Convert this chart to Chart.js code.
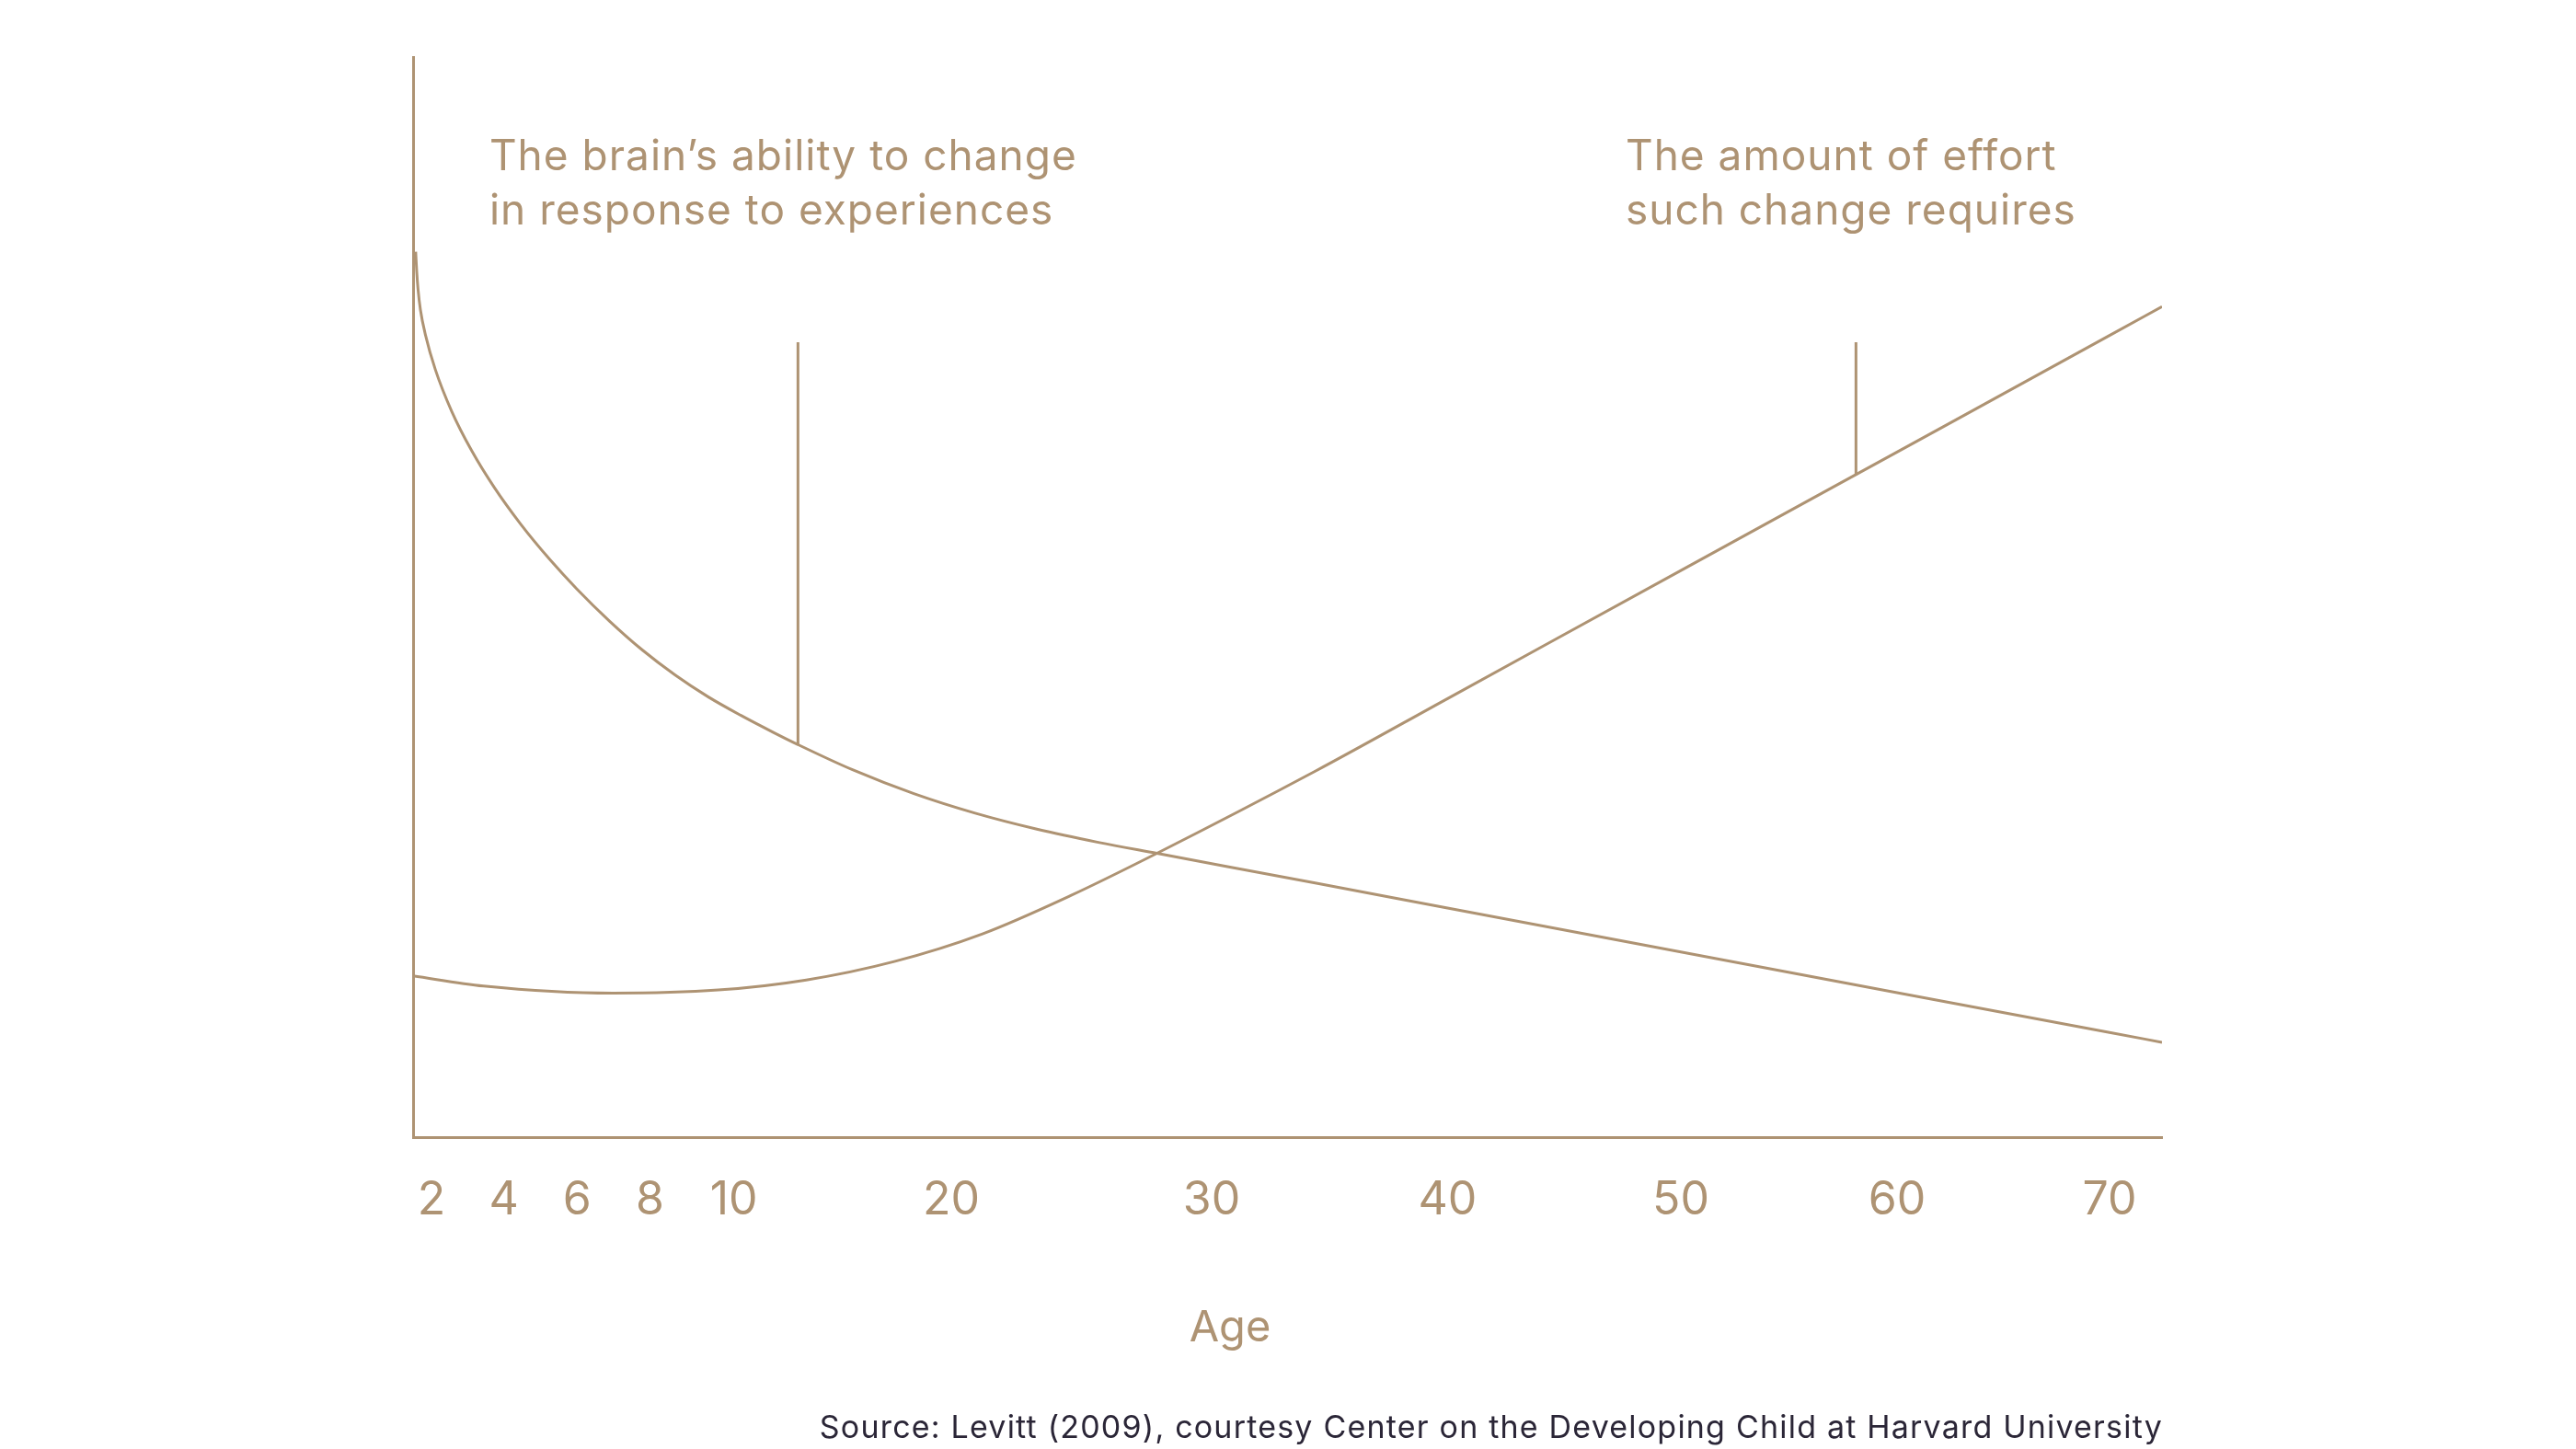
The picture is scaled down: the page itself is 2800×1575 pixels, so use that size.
<!DOCTYPE html>
<html>
<head>
<meta charset="utf-8">
<title>Brain plasticity and effort by age</title>
<script src="https://cdn.jsdelivr.net/npm/chart.js@4.4.1/dist/chart.umd.min.js"></script>
<style>
    html, body { margin: 0; padding: 0; background: #ffffff; }
    #wrap { width: 2800px; height: 1575px; }
</style>
</head>
<body>
<div id="wrap">
    <canvas id="brainChart" width="2800" height="1575"></canvas>
</div>
<script>
// Age tick labels along the bottom axis
const tickAges = [2, 4, 6, 8, 10, 20, 30, 40, 50, 60, 70];

// The brain's ability to change (0-100 scale)
const plasticityAges = [1.571, 1.6, 1.635, 1.7, 1.839, 2.109, 2.562, 3.107, 3.741, 4.462, 5.269, 5.987, 6.889, 7.792, 8.603, 9.386, 10.33, 11.84, 12.95, 15.46, 18.28, 20.92, 23.29, 25.65, 27.9, 34.44, 40, 50, 60, 70, 72.5];
const plasticityValues = [81.97, 80.1, 78.5, 76.6, 74.25, 71.05, 67.18, 63.58, 60.12, 56.74, 53.42, 50.77, 47.78, 45.1, 42.78, 40.77, 39.04, 37.45, 36.34, 34.01, 31.8, 29.99, 28.51, 27.29, 26.27, 23.51, 21.21, 17.14, 13.38, 9.69, 8.78];

// The amount of effort such change requires
const effortAges = [1.5, 3.44, 6.98, 9.63, 13.33, 17.38, 21.2, 24.59, 27.9, 34.41, 40, 50, 60, 70, 72.5];
const effortValues = [14.93, 13.99, 13.33, 13.62, 14.55, 16.26, 18.82, 22.37, 26.28, 33.9, 40.6, 52.46, 63.43, 74.22, 76.9];

// pointer lines from the captions down to the curves
const pointerAges = [12.95, 58.1];
const pointerTops = [73.6, 73.6];
const pointerBottoms = [36.34, 61.3];

const captionLines = [
    ['The brain\u2019s ability to change', 'in response to experiences'],
    ['The amount of effort', 'such change requires']
];
const captionAges = [3.6, 47.63];
const captionValues = [89.5, 89.5];

const sourceText = 'Source: Levitt (2009), courtesy Center on the Developing Child at Harvard University';

const tan = '#ae9373';
const ink = '#2b2637';

// The age axis in the original is not evenly spaced, so the scale
// interpolates between these anchor ages (start of axis .. end of axis)
const axisAges = [1.5, 2, 4, 6, 8, 10, 20, 30, 40, 50, 60, 70, 72.5];
const axisStops = [0, 0.0105, 0.0519, 0.0938, 0.1354, 0.1834, 0.3077, 0.4566, 0.5915, 0.7249, 0.8485, 0.9700, 1];

function ageToDecimal(age) {
    if (age <= axisAges[0]) return axisStops[0];
    for (let i = 1; i < axisAges.length; i++) {
        if (age <= axisAges[i]) {
            const t = (age - axisAges[i - 1]) / (axisAges[i] - axisAges[i - 1]);
            return axisStops[i - 1] + t * (axisStops[i] - axisStops[i - 1]);
        }
    }
    return axisStops[axisStops.length - 1];
}

function decimalToAge(dec) {
    if (dec <= axisStops[0]) return axisAges[0];
    for (let i = 1; i < axisStops.length; i++) {
        if (dec <= axisStops[i]) {
            const t = (dec - axisStops[i - 1]) / (axisStops[i] - axisStops[i - 1]);
            return axisAges[i - 1] + t * (axisAges[i] - axisAges[i - 1]);
        }
    }
    return axisAges[axisAges.length - 1];
}

class AgeScale extends Chart.LinearScale {
    getPixelForValue(value) {
        return this.getPixelForDecimal(ageToDecimal(value));
    }
    getValueForPixel(pixel) {
        return decimalToAge(this.getDecimalForPixel(pixel));
    }
}
AgeScale.id = 'age';
AgeScale.defaults = Chart.LinearScale.defaults;
Chart.register(AgeScale);

function toPoints(xs, ys) {
    return xs.map((x, i) => ({ x: x, y: ys[i] }));
}

// captions, the axis name and the source line
const captionPlugin = {
    id: 'captions',
    afterDraw(chart) {
        const ctx = chart.ctx;
        const xScale = chart.scales.x;
        const yScale = chart.scales.y;
        ctx.save();
        ctx.fillStyle = tan;
        ctx.textBaseline = 'alphabetic';
        ctx.textAlign = 'left';
        ctx.letterSpacing = '1px';
        ctx.font = '400 46px Inter, "Noto Sans", sans-serif';
        captionLines.forEach((lines, i) => {
            const x = xScale.getPixelForValue(captionAges[i]);
            const y = yScale.getPixelForValue(captionValues[i]);
            lines.forEach((line, j) => {
                ctx.fillText(line, x, y + j * 59);
            });
        });
        // axis name sits a little left of centre in the original
        ctx.textAlign = 'center';
        ctx.letterSpacing = '0px';
        ctx.font = '400 47px Inter, "Noto Sans", sans-serif';
        ctx.fillText('Age', xScale.getPixelForValue(30.78), yScale.getPixelForValue(-18.9));

        // source, right aligned with the end of the age axis
        ctx.textAlign = 'right';
        ctx.fillStyle = ink;
        ctx.letterSpacing = '1.2px';
        ctx.font = '400 34px Inter, "Noto Sans", sans-serif';
        ctx.fillText(sourceText, xScale.right + 1, chart.height - 12);
        ctx.restore();
    }
};

const ctx = document.getElementById('brainChart').getContext('2d');

const brainChart = new Chart(ctx, {
    type: 'line',
    data: {
        datasets: [
            {
                label: 'Ability to change',
                data: toPoints(plasticityAges, plasticityValues),
                borderColor: tan,
                borderWidth: 3,
                pointRadius: 0,
                cubicInterpolationMode: 'monotone',
                fill: false
            },
            {
                label: 'Effort required',
                data: toPoints(effortAges, effortValues),
                borderColor: tan,
                borderWidth: 3,
                pointRadius: 0,
                cubicInterpolationMode: 'monotone',
                fill: false
            },
            {
                label: 'pointer 1',
                data: [{ x: pointerAges[0], y: pointerTops[0] }, { x: pointerAges[0], y: pointerBottoms[0] }],
                borderColor: tan,
                borderWidth: 3,
                pointRadius: 0,
                fill: false
            },
            {
                label: 'pointer 2',
                data: [{ x: pointerAges[1], y: pointerTops[1] }, { x: pointerAges[1], y: pointerBottoms[1] }],
                borderColor: tan,
                borderWidth: 3,
                pointRadius: 0,
                fill: false
            }
        ]
    },
    options: {
        responsive: false,
        animation: false,
        layout: {
            padding: { left: 449, right: 450, top: 62, bottom: 201 }
        },
        scales: {
            x: {
                type: 'age',
                min: 1.5,
                max: 72.5,
                afterBuildTicks: axis => {
                    axis.ticks = tickAges.map(v => ({ value: v }));
                },
                grid: { display: false, drawTicks: false },
                border: { display: true, color: tan, width: 3 },
                ticks: {
                    autoSkip: false,
                    maxRotation: 0,
                    minRotation: 0,
                    padding: 39,
                    color: tan,
                    font: { family: 'Inter, "Noto Sans", sans-serif', size: 50, weight: '400' },
                    callback: value => String(value)
                }
            },
            y: {
                min: 0,
                max: 100,
                grid: { display: false, drawTicks: false },
                border: { display: true, color: tan, width: 3 },
                ticks: { display: false }
            }
        },
        plugins: {
            legend: { display: false },
            tooltip: { enabled: false },
            title: { display: false }
        }
    },
    plugins: [captionPlugin]
});
</script>
</body>
</html>
